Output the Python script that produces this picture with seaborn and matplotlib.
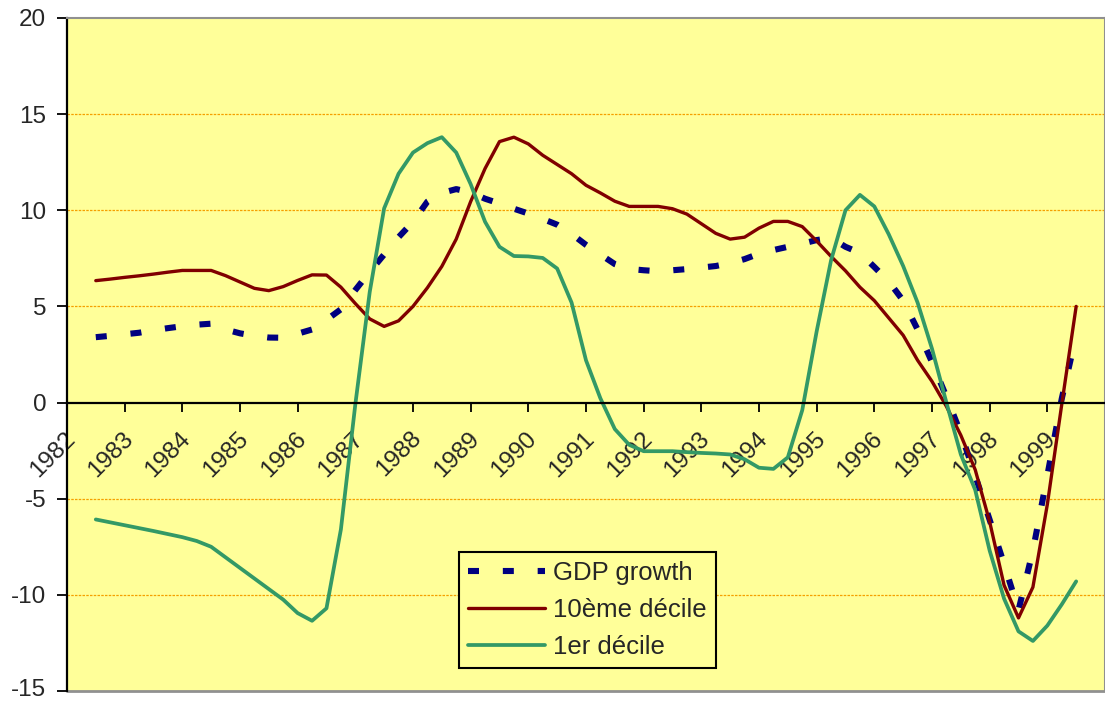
import pandas as pd
import matplotlib.pyplot as plt
import seaborn as sns
from matplotlib.transforms import ScaledTranslation

# quarterly observations, 1982Q3 .. 1999Q3
quarters = pd.period_range('1982Q3', '1999Q3', freq='Q')

gdp_growth = [3.4, 3.47, 3.55, 3.63, 3.76, 3.87, 3.97, 4.05, 4.1, 3.8,
              3.6, 3.47, 3.38, 3.37, 3.58, 3.8, 4.3, 4.85,
              5.85, 6.8, 7.7, 8.6, 9.4, 10.45, 10.9, 11.1,
              10.93, 10.6, 10.35, 10.08, 9.83, 9.55, 9.25, 8.77,
              8.2, 7.7, 7.2, 6.95, 6.88, 6.83, 6.88, 6.94,
              7.02, 7.1, 7.25, 7.46, 7.74, 7.93, 8.1, 8.26,
              8.45, 8.56, 8.1, 7.78, 7.05, 6.3, 5.3, 3.8,
              2.1, 0.3, -1.6, -3.8, -6.1, -8.4, -10.8, -7.7,
              -3.8, 0.2, 3.5]

decile_10 = [6.34, 6.42, 6.51, 6.59, 6.68, 6.78, 6.87, 6.87, 6.87, 6.6,
             6.27, 5.94, 5.82, 6.03, 6.35, 6.64, 6.63, 6.0,
             5.15, 4.35, 3.96, 4.25, 5.0, 5.97, 7.08, 8.5,
             10.45, 12.17, 13.57, 13.8, 13.45, 12.86, 12.38, 11.9,
             11.3, 10.9, 10.47, 10.2, 10.2, 10.2, 10.08, 9.8,
             9.3, 8.8, 8.5, 8.6, 9.07, 9.42, 9.42, 9.15,
             8.4, 7.6, 6.85, 6.0, 5.3, 4.4, 3.5, 2.2,
             1.1, -0.2, -1.7, -3.5, -6.2, -9.5, -11.2, -9.6,
             -5.3, -0.1, 5.0]

decile_1 = [-6.08, -6.23, -6.38, -6.53, -6.68, -6.84, -7.0, -7.2, -7.5, -8.05,
            -8.6, -9.15, -9.7, -10.25, -10.95, -11.35, -10.7, -6.6,
            -0.1, 5.75, 10.1, 11.9, 13.0, 13.49, 13.8, 13.0,
            11.36, 9.4, 8.1, 7.62, 7.6, 7.52, 6.97, 5.2,
            2.2, 0.22, -1.38, -2.2, -2.53, -2.53, -2.53, -2.58,
            -2.62, -2.65, -2.7, -2.95, -3.39, -3.45, -2.85, -0.4,
            3.7, 7.4, 10.0, 10.8, 10.2, 8.75, 7.1, 5.2,
            2.8, 0.0, -2.7, -4.55, -7.7, -10.2, -11.9, -12.4,
            -11.6, -10.5, -9.3]

years = list(range(1982, 2000))
y_ticks = [-15, -10, -5, 0, 5, 10, 15, 20]

df = pd.DataFrame({
    'date': [p.year + (p.quarter - 1) / 4 for p in quarters],
    'GDP growth': gdp_growth,
    '10ème décile': decile_10,
    '1er décile': decile_1,
})

sns.set_theme(style='ticks')
plt.rcParams['font.family'] = ['Liberation Sans', 'DejaVu Sans']
fs = 17.5

fig = plt.figure(figsize=(11.05, 7.02), dpi=100)
ax = fig.add_axes([0.0606, 0.0157, 0.9394, 0.9587])
ax.set_facecolor('#FFFF99')

sns.lineplot(data=df, x='date', y='GDP growth', ax=ax, color='#000080',
             lw=4.4, label='GDP growth')
ax.lines[-1].set_linestyle((0, (1.8, 3.9)))
sns.lineplot(data=df, x='date', y='10ème décile', ax=ax, color='#800000',
             lw=2.4, label='10ème décile', solid_joinstyle='round')
sns.lineplot(data=df, x='date', y='1er décile', ax=ax, color='#339966',
             lw=2.7, label='1er décile', solid_joinstyle='round')

ax.set_xlim(1982, 2000)
ax.set_ylim(-15, 20)
ax.set_xlabel('')
ax.set_ylabel('')

# gridlines
for v in y_ticks:
    if v not in (-15, 0, 20):
        ax.axhline(v, color='#F5A000', lw=0.9, ls=(0, (2, 1)), zorder=0.5)

# frame
ax.spines['left'].set_color('black')
ax.spines['left'].set_linewidth(1.6)
ax.spines['bottom'].set_position(('data', 0))
ax.spines['bottom'].set_color('black')
ax.spines['bottom'].set_linewidth(1.6)
for s in ('top', 'right'):
    ax.spines[s].set_color('#909090')
    ax.spines[s].set_linewidth(1.5)
ax.axhline(-15, color='#909090', lw=2, clip_on=False)

ax.set_yticks(y_ticks)
ax.set_yticklabels([str(v) for v in y_ticks], fontsize=fs)
ax.tick_params(axis='y', direction='out', length=7, width=1.3, pad=8, color='black')
# keep the lowest label inside the figure
low = ax.get_yticklabels()[0]
low.set_transform(low.get_transform() + ScaledTranslation(0, 0.03, fig.dpi_scale_trans))

ax.set_xticks(years)
ax.set_xticklabels([str(y) for y in years], fontsize=fs, rotation=45,
                   ha='right', va='center', rotation_mode='anchor')
ax.tick_params(axis='x', direction='out', length=6.5, width=1.3, pad=17, color='black')
shift = ScaledTranslation(0.05, 0, fig.dpi_scale_trans)
for lab in ax.get_xticklabels():
    lab.set_transform(lab.get_transform() + shift)

leg = ax.legend(loc='lower left', bbox_to_anchor=(0.378, 0.034), fontsize=18.5,
                frameon=True, fancybox=False, facecolor='#FFFF99', edgecolor='black',
                framealpha=1, handlelength=3.0, handletextpad=0.3,
                labelspacing=0.5, borderpad=0.35, borderaxespad=0)
leg.get_frame().set_linewidth(1.5)

fig.savefig('out.png', dpi=100)
